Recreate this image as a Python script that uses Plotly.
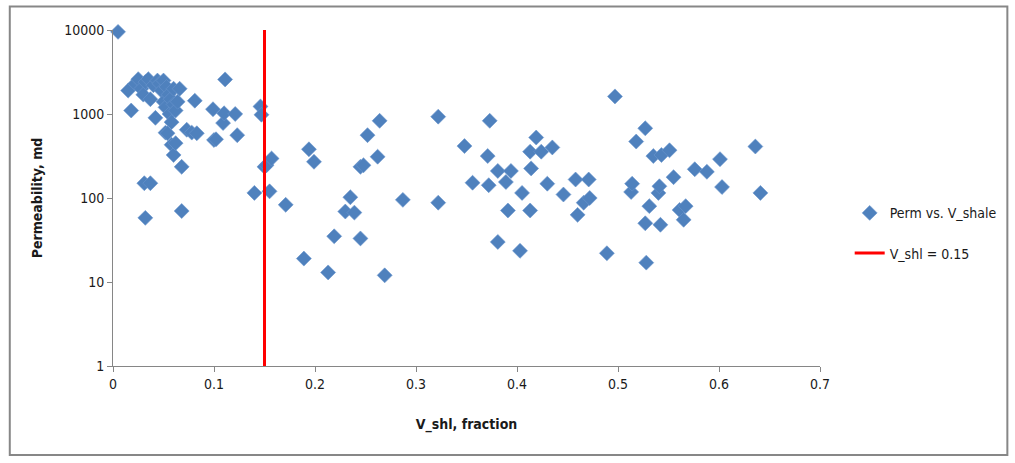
import plotly.graph_objects as go

# Shale volume (fraction) and permeability (md) per sample
v_shale = [
    0.005, 0.015, 0.018, 0.022, 0.025, 0.028, 0.030, 0.032, 0.035, 0.037,
    0.040, 0.042, 0.044, 0.046, 0.048, 0.050, 0.050, 0.052, 0.053, 0.055,
    0.056, 0.057, 0.058, 0.060, 0.060, 0.062, 0.064, 0.066, 0.052, 0.054,
    0.058, 0.060, 0.062, 0.068, 0.073, 0.078, 0.083, 0.081, 0.099, 0.100,
    0.102, 0.109, 0.110, 0.111, 0.121, 0.123, 0.031, 0.037, 0.032, 0.068,
    0.140, 0.146, 0.147, 0.150, 0.152, 0.155, 0.157, 0.171, 0.189, 0.194,
    0.199, 0.213, 0.219, 0.230, 0.235, 0.239, 0.245, 0.245, 0.248, 0.252,
    0.262, 0.264, 0.269, 0.287, 0.322, 0.322, 0.348, 0.356, 0.371, 0.372,
    0.373, 0.381, 0.381, 0.389, 0.391, 0.394, 0.403, 0.405, 0.413, 0.413,
    0.414, 0.419, 0.424, 0.430, 0.435, 0.446, 0.458, 0.460, 0.466, 0.471,
    0.472, 0.489, 0.497, 0.513, 0.514, 0.518, 0.527, 0.527, 0.528, 0.531,
    0.535, 0.540, 0.541, 0.542, 0.543, 0.551, 0.555, 0.561, 0.565, 0.567,
    0.576, 0.588, 0.601, 0.603, 0.636, 0.641,
]
permeability = [
    9500, 1900, 1100, 2300, 2600, 2000, 1700, 2400, 2600, 1500,
    2200, 900, 2500, 2300, 1900, 2500, 1400, 1200, 2100, 1700,
    1000, 1500, 800, 1300, 2000, 1100, 1400, 2000, 600, 590,
    430, 325, 450, 235, 650, 600, 590, 1440, 1140, 490,
    500, 780, 1020, 2580, 1000, 560, 150, 150, 58, 70,
    115, 1230, 980, 235, 245, 120, 295, 83, 19, 380,
    270, 13, 35, 69, 102, 67, 33, 235, 245, 560,
    310, 830, 12, 95, 930, 88, 415, 152, 316, 142,
    830, 210, 30, 155, 71, 210, 23.5, 115, 356, 71,
    225, 525, 356, 148, 400, 110, 166, 63, 88, 166,
    100, 22, 1620, 118, 148, 470, 675, 50, 17, 80,
    316, 115, 138, 48, 325, 370, 177, 72, 55, 80,
    220, 205, 290, 135, 410, 115,
]

# Shale cutoff
cutoff = 0.15
cutoff_y = [1, 10000]

# Axis ticks
x_ticks = [0, 0.1, 0.2, 0.3, 0.4, 0.5, 0.6, 0.7]
x_tick_labels = ["0", "0.1", "0.2", "0.3", "0.4", "0.5", "0.6", "0.7"]
y_ticks = [1, 10, 100, 1000, 10000]
y_tick_labels = ["1", "10", "100", "1000", "10000"]

FONT = "Liberation Sans Narrow, DejaVu Sans Condensed, Arial Narrow, sans-serif"
AXIS_GREY = "#868686"

fig = go.Figure()

fig.add_trace(go.Scatter(
    x=v_shale, y=permeability,
    mode="markers",
    name="Perm vs. V_shale",
    legendgroup="a",
    cliponaxis=False,
    marker=dict(symbol="diamond", size=11.5, color="#4F81BD",
                line=dict(width=0.6, color="#6A95CC")),
))

fig.add_trace(go.Scatter(
    x=[cutoff, cutoff], y=cutoff_y,
    mode="lines",
    name="V_shl = 0.15",
    legendgroup="b",
    line=dict(color="#FF0000", width=3),
))

fig.update_layout(
    width=1015, height=463,
    margin=dict(l=113, r=195, t=30, b=97),
    paper_bgcolor="white", plot_bgcolor="white",
    font=dict(family=FONT, size=14, color="#1a1a1a"),
    showlegend=True,
    legend=dict(
        x=1.042, y=0.395, xanchor="left", yanchor="middle",
        font=dict(family=FONT, size=14, color="#1a1a1a"),
        traceorder="grouped", tracegroupgap=19,
        bgcolor="rgba(0,0,0,0)",
    ),
    shapes=[dict(
        type="rect", xref="paper", yref="paper",
        x0=-0.146, x1=1.265, y0=-0.265, y1=1.07,
        line=dict(color="#878787", width=2), fillcolor="rgba(0,0,0,0)",
        layer="below",
    )],
)

fig.update_xaxes(
    range=[0, 0.7],
    tickvals=x_ticks, ticktext=x_tick_labels,
    showgrid=False, zeroline=False,
    showline=True, linecolor=AXIS_GREY, linewidth=1,
    ticks="outside", ticklen=5, tickcolor=AXIS_GREY,
    tickfont=dict(family=FONT, size=14),
    title=dict(text="<b>V_shl, fraction</b>", font=dict(family=FONT, size=14),
               standoff=28),
)

fig.update_yaxes(
    type="log", range=[0, 4],
    tickvals=y_ticks, ticktext=y_tick_labels,
    showgrid=False, zeroline=False,
    showline=True, linecolor=AXIS_GREY, linewidth=1,
    ticks="outside", ticklen=5, tickcolor=AXIS_GREY,
    tickfont=dict(family=FONT, size=14),
    title=dict(text="<b>Permeability, md</b>", font=dict(family=FONT, size=14),
               standoff=18),
)

fig.write_html("out.html")
